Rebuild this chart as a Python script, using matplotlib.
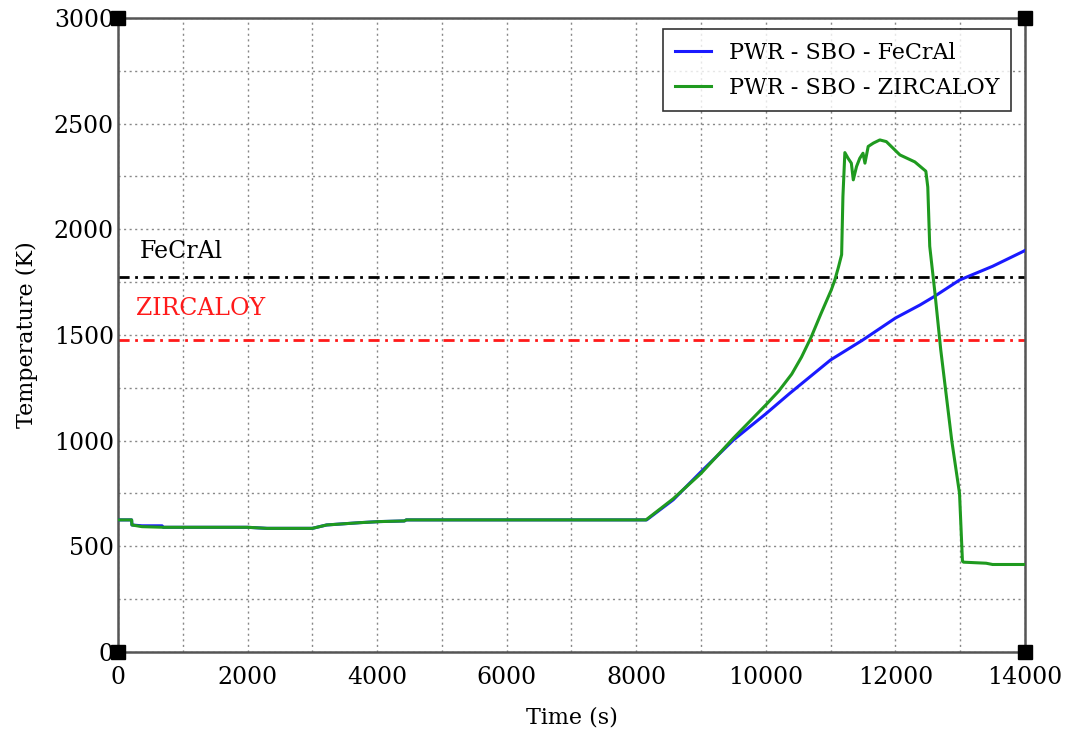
import matplotlib
matplotlib.use("Agg")
import matplotlib.pyplot as plt
from matplotlib.ticker import MultipleLocator

plt.rcParams['font.family'] = ['DejaVu Serif']

# FeCrAl cladding temperature
t_fecral = [0, 210, 215, 370, 680, 700, 2000, 2300, 3000, 3220, 3740, 4040, 4420, 4450,
            8160, 8570, 9000, 9500, 10000, 10370, 11000, 11500, 12000, 12380, 12610,
            12990, 13500, 13970, 14000]
T_fecral = [625, 625, 601, 597, 597, 590, 590, 585, 585, 601, 612, 617, 620, 625,
            625, 720, 853, 1003, 1127, 1224, 1382, 1477, 1580, 1642, 1684,
            1760, 1825, 1895, 1900]

# Zircaloy cladding temperature
t_zirc = [0, 210, 215, 370, 700, 2000, 2300, 3000, 3220, 3740, 4040, 4420, 4450,
          8150, 8570, 9000, 9500, 10000, 10200, 10400, 10550, 10700, 10850, 11010, 11065,
          11120, 11170, 11190, 11220, 11270, 11320, 11350, 11400, 11450, 11500, 11530,
          11580, 11660, 11760, 11860, 12070, 12300, 12470, 12500, 12530, 12610, 12700,
          12870, 12990, 13035, 13050, 13400, 13500, 14000]
T_zirc = [625, 625, 601, 593, 590, 590, 585, 585, 601, 612, 617, 620, 625,
          625, 725, 845, 1012, 1169, 1235, 1315, 1395, 1490, 1600, 1713, 1760,
          1820, 1880, 2155, 2363, 2336, 2313, 2234, 2297, 2336, 2360, 2313,
          2392, 2408, 2423, 2415, 2352, 2319, 2275, 2200, 1920, 1700, 1430,
          1000, 750, 430, 425, 420, 414, 414]

limit_fecral = 1773
limit_zirc = 1477
labels = ["PWR - SBO - FeCrAl", "PWR - SBO - ZIRCALOY"]

fig = plt.figure(figsize=(10.66, 7.31), dpi=100)
ax = fig.add_axes([0.1107, 0.1081, 0.8508, 0.8673])

ax.plot(t_fecral, T_fecral, color='#1a1aff', lw=2.2, label=labels[0], zorder=3)
ax.plot(t_zirc, T_zirc, color='#1f9a1f', lw=2.2, label=labels[1], zorder=4)

ax.axhline(limit_fecral, color='black', lw=2, dashes=(4, 2, 1, 2), zorder=2)
ax.axhline(limit_zirc, color='#ff1a1a', lw=2, dashes=(4, 2, 1, 2), zorder=2)
ax.text(340, 1895, "FeCrAl", color='black', fontsize=17, va='center', ha='left')
ax.text(280, 1625, "ZIRCALOY", color='#ff1a1a', fontsize=17, va='center', ha='left')

ax.set_xlim(0, 14000)
ax.set_ylim(0, 3000)
ax.xaxis.set_major_locator(MultipleLocator(2000))
ax.xaxis.set_minor_locator(MultipleLocator(1000))
ax.yaxis.set_major_locator(MultipleLocator(500))
ax.yaxis.set_minor_locator(MultipleLocator(250))
ax.grid(True, which='both', color='#888888', linestyle=(0, (1.5, 2.5)), lw=1)
ax.tick_params(which='both', length=0, labelsize=17)
ax.tick_params(axis='x', pad=10)
ax.tick_params(axis='y', pad=3)

for s in ax.spines.values():
    s.set_color('#555555')
    s.set_linewidth(1.8)

# corner markers
ax.plot([0, 0, 14000, 14000], [0, 3000, 3000, 0], 's', color='black', ms=10,
        clip_on=False, zorder=6)

ax.set_xlabel("Time (s)", fontsize=16, labelpad=13)
ax.set_ylabel("Temperature (K)", fontsize=16, labelpad=11)

leg = ax.legend(loc='upper right', bbox_to_anchor=(0.985, 0.982), borderaxespad=0,
                fontsize=16, frameon=True, fancybox=False, edgecolor='black',
                handlelength=1.6, handletextpad=0.8, labelspacing=0.6,
                borderpad=0.55)
leg.get_frame().set_linewidth(1.2)

fig.savefig("out.png", dpi=100)
